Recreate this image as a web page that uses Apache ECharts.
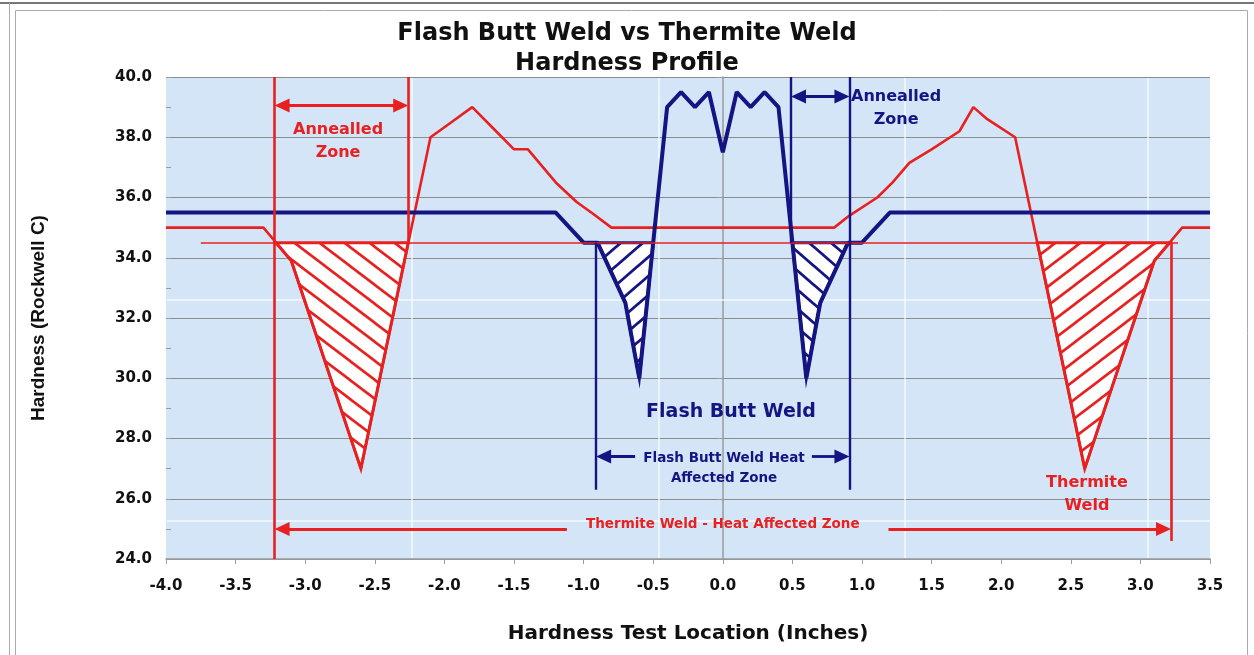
<!DOCTYPE html>
<html>
<head>
<meta charset="utf-8">
<script src="https://cdn.jsdelivr.net/npm/echarts@6/dist/echarts.min.js"></script>
<style>
  html, body { margin: 0; padding: 0; background: #fff; }
  #chart { width: 1254px; height: 655px; }
</style>
</head>
<body>
<div id="chart"></div>
<script>
// hardness readings, [inches, HRC]
const thermiteCurve = [
  [-4.0, 35.0], [-3.3, 35.0], [-3.1, 33.9], [-2.6, 27.0], [-2.1, 38.0], [-1.95, 38.5],
  [-1.8, 39.0], [-1.65, 38.3], [-1.5, 37.6], [-1.4, 37.6], [-1.2, 36.5], [-1.05, 35.85],
  [-0.93, 35.45], [-0.8, 35.0], [0.8, 35.0], [0.91, 35.4], [1.11, 36.0], [1.22, 36.5],
  [1.34, 37.15], [1.5, 37.6], [1.7, 38.2], [1.8, 39.0], [1.9, 38.6], [2.1, 38.0],
  [2.6, 27.0], [3.1, 33.9], [3.3, 35.0], [3.5, 35.0]
];
const flashCurve = [
  [-4.0, 35.5], [-1.2, 35.5], [-1.0, 34.5], [-0.9, 34.5], [-0.7, 32.5], [-0.6, 30.0],
  [-0.4, 39.0], [-0.3, 39.5], [-0.2, 39.0], [-0.1, 39.5], [0.0, 37.5], [0.1, 39.5],
  [0.2, 39.0], [0.3, 39.5], [0.4, 39.0], [0.6, 30.0], [0.7, 32.5], [0.9, 34.5],
  [1.0, 34.5], [1.2, 35.5], [3.5, 35.5]
];
// soft zones below the 34.5 reference
const thermiteZoneLeft = [[-3.21, 34.5], [-3.1, 33.9], [-2.6, 27.0], [-2.26, 34.5]];
const thermiteZoneRight = [[2.26, 34.5], [2.6, 27.0], [3.1, 33.9], [3.21, 34.5]];
const flashZoneLeft = [[-0.9, 34.5], [-0.7, 32.5], [-0.6, 30.0], [-0.5, 34.5]];
const flashZoneRight = [[0.5, 34.5], [0.6, 30.0], [0.7, 32.5], [0.9, 34.5]];
const referenceLevel = 34.5;

const RED = '#e8201f';
const NAVY = '#141482';
const FONT = 'DejaVu Sans';
// arrow heads are centred on the line end, so pull the tip back by half a head
const HEAD = 0.054;

function hatch(color, dir, w, h, lw) {
  const c = document.createElement('canvas');
  c.width = w; c.height = h;
  const g = c.getContext('2d');
  g.fillStyle = '#ffffff';
  g.fillRect(0, 0, w, h);
  g.strokeStyle = color;
  g.lineWidth = lw;
  for (let k = -2; k <= 2; k++) {
    g.beginPath();
    if (dir === '\\') {
      g.moveTo(k * w - w, -h);
      g.lineTo(k * w + 2 * w, 2 * h);
    } else {
      g.moveTo(k * w - w, 2 * h);
      g.lineTo(k * w + 2 * w, -h);
    }
    g.stroke();
  }
  return { image: c, repeat: 'repeat' };
}

const zones = [
  { pts: thermiteZoneLeft, color: RED, fill: hatch(RED, '\\', 25, 19, 2.6) },
  { pts: thermiteZoneRight, color: RED, fill: hatch(RED, '/', 25, 19, 2.6) },
  { pts: flashZoneLeft, color: NAVY, fill: hatch(NAVY, '/', 22, 19, 2.8) },
  { pts: flashZoneRight, color: NAVY, fill: hatch(NAVY, '\\', 22, 19, 2.8) }
];

function seg(x1, y1, x2, y2, arrows, width) {
  return [
    { coord: [x1, y1], symbol: arrows === 'both' || arrows === 'start' ? 'triangle' : 'none', lineStyle: { width: width } },
    { coord: [x2, y2], symbol: arrows === 'both' || arrows === 'end' ? 'triangle' : 'none' }
  ];
}

const chart = echarts.init(document.getElementById('chart'));

const option = {
  animation: false,
  backgroundColor: '#ffffff',
  title: {
    text: 'Flash Butt Weld vs Thermite Weld\nHardness Profile',
    left: 'center',
    top: 14,
    textStyle: { fontFamily: FONT, fontWeight: 'bold', fontSize: 24, color: '#111', lineHeight: 30 }
  },
  grid: { left: 166, right: 44, top: 77, bottom: 96, backgroundColor: '#d3e5f7', show: true, borderWidth: 0 },
  xAxis: {
    type: 'value',
    min: -4,
    max: 3.5,
    interval: 0.5,
    name: 'Hardness Test Location (Inches)',
    nameLocation: 'middle',
    nameGap: 65,
    nameTextStyle: { fontFamily: FONT, fontWeight: 'bold', fontSize: 20, color: '#111' },
    axisLine: { onZero: false, lineStyle: { color: '#9a9a9a', width: 1.5 } },
    axisTick: { length: 5, lineStyle: { color: '#9a9a9a' } },
    axisLabel: { margin: 20, fontFamily: FONT, fontWeight: 'bold', fontSize: 15, color: '#111', formatter: v => v.toFixed(1) },
    splitLine: { show: false }
  },
  yAxis: [{
    type: 'value',
    min: 24,
    max: 40,
    interval: 2,
    name: 'Hardness (Rockwell C)',
    nameLocation: 'middle',
    nameGap: 118,
    nameTextStyle: { fontFamily: 'Liberation Sans', fontWeight: 'bold', fontSize: 19, color: '#111' },
    axisLine: { show: true, lineStyle: { color: '#9a9a9a', width: 1.5 } },
    axisTick: { show: true, length: 6, lineStyle: { color: '#9a9a9a' } },
    axisLabel: { margin: 14, fontFamily: FONT, fontWeight: 'bold', fontSize: 15, color: '#111', formatter: v => v.toFixed(1) },
    splitLine: { show: true, lineStyle: { color: '#8c8c8c', width: 1 } }
  }, {
    type: 'value',
    min: 24,
    max: 40,
    interval: 1,
    position: 'left',
    axisLine: { show: false },
    axisTick: { show: true, inside: true, length: 5, lineStyle: { color: '#9a9a9a' } },
    axisLabel: { show: false },
    splitLine: { show: false }
  }],
  series: [
    {
      type: 'custom',
      z: 2,
      silent: true,
      data: zones.map(z => z.pts[0]),
      encode: { x: 0, y: 1 },
      renderItem: (params, api) => {
        const z = zones[params.dataIndex];
        return {
          type: 'polygon',
          shape: { points: z.pts.map(p => api.coord(p)) },
          style: { fill: z.fill, stroke: z.color, lineWidth: 3, lineJoin: 'miter' }
        };
      }
    },
    {
      name: 'Thermite Weld',
      type: 'line',
      z: 3,
      data: thermiteCurve,
      showSymbol: false,
      lineStyle: { color: RED, width: 2.6 },
      markLine: {
        silent: true,
        symbol: ['none', 'none'],
        symbolSize: [14, 15],
        label: { show: false },
        lineStyle: { color: RED, type: 'solid', width: 2.6 },
        data: [
          seg(-3.75, referenceLevel, 3.27, referenceLevel, 'none', 1.5),
          seg(-3.22, 24.0, -3.22, 40.0, 'none', 2.6),
          seg(-2.26, referenceLevel, -2.26, 40.0, 'none', 2.6),
          seg(3.22, 24.6, 3.22, referenceLevel, 'none', 2.6),
          seg(-3.22 + HEAD, 39.05, -2.26 - HEAD, 39.05, 'both', 2.8),
          seg(-1.12, 25.0, -3.22 + HEAD, 25.0, 'end', 2.8),
          seg(1.19, 25.0, 3.22 - HEAD, 25.0, 'end', 2.8)
        ]
      }
    },
    {
      name: 'Flash Butt Weld',
      type: 'line',
      z: 4,
      data: flashCurve,
      showSymbol: false,
      lineStyle: { color: NAVY, width: 4 },
      markLine: {
        silent: true,
        symbol: ['none', 'none'],
        symbolSize: [14, 15],
        label: { show: false },
        lineStyle: { color: NAVY, type: 'solid', width: 2.4 },
        data: [
          seg(-0.91, 26.3, -0.91, referenceLevel, 'none', 2.4),
          seg(0.49, referenceLevel, 0.49, 40.0, 'none', 2.4),
          seg(0.91, 26.3, 0.91, 40.0, 'none', 2.4),
          seg(0.49 + HEAD, 39.35, 0.91 - HEAD, 39.35, 'both', 2.8),
          seg(-0.63, 27.4, -0.91 + HEAD, 27.4, 'end', 2.8),
          seg(0.64, 27.4, 0.91 - HEAD, 27.4, 'end', 2.8)
        ]
      }
    }
  ]
};

chart.setOption(option);

// annotation texts, anchored in data coordinates
const notes = [
  { at: [-2.764, 37.87], text: 'Annealled\nZone', color: RED, size: 16, lh: 23 },
  { at: [1.245, 38.97], text: 'Annealled\nZone', color: NAVY, size: 16, lh: 23 },
  { at: [0.059, 28.88], text: 'Flash Butt Weld', color: NAVY, size: 19, lh: 24 },
  { at: [0.009, 27.02], text: 'Flash Butt Weld Heat\nAffected Zone', color: NAVY, size: 13.5, lh: 20 },
  { at: [0.0, 25.16], text: 'Thermite Weld - Heat Affected Zone', color: RED, size: 13.5, lh: 18 },
  { at: [2.616, 26.16], text: 'Thermite\nWeld', color: RED, size: 16, lh: 23 }
];

const graphic = [];
// paper texture seams of the original plot background
[412, 659, 905, 1148].forEach(x => graphic.push({
  type: 'line', z: 1, silent: true,
  shape: { x1: x, y1: 78, x2: x, y2: 558 },
  style: { stroke: 'rgba(255,255,255,0.8)', lineWidth: 1.5 }
}));
[300, 521].forEach(y => graphic.push({
  type: 'line', z: 1, silent: true,
  shape: { x1: 167, y1: y, x2: 1210, y2: y },
  style: { stroke: 'rgba(255,255,255,0.8)', lineWidth: 1.5 }
}));
// frame
graphic.push({ type: 'line', silent: true, shape: { x1: 0, y1: 3, x2: 1254, y2: 3 }, style: { stroke: '#777', lineWidth: 2 } });
graphic.push({ type: 'rect', silent: true, shape: { x: 15.5, y: 10.5, width: 1232, height: 660 }, style: { fill: null, stroke: '#aaa', lineWidth: 1 } });
graphic.push({ type: 'line', silent: true, shape: { x1: 9.5, y1: 3, x2: 9.5, y2: 655 }, style: { stroke: '#aaa', lineWidth: 1 } });

notes.forEach(n => {
  const p = chart.convertToPixel({ gridIndex: 0 }, n.at);
  graphic.push({
    type: 'text', z: 10, silent: true,
    x: p[0], y: p[1],
    style: {
      text: n.text, fill: n.color, align: 'center', verticalAlign: 'middle',
      font: 'bold ' + n.size + 'px "' + FONT + '"', lineHeight: n.lh
    }
  });
});

chart.setOption({ graphic: graphic });
</script>
</body>
</html>
